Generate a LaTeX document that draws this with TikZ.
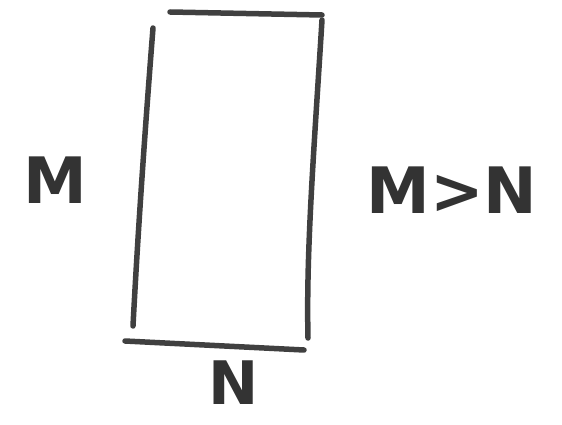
\documentclass[tikz,border=0pt]{standalone}
\usepackage{fontspec}
\setmainfont{DejaVu Sans}
\begin{document}
\begin{tikzpicture}[x=1pt,y=-1pt,
  stroke/.style={line width=5.5pt,draw=black!75,line cap=round},
  lbl/.style={font=\fontsize{64}{64}\selectfont\bfseries,text=black!80,inner sep=0pt}]
\useasboundingbox (0,0) rectangle (562,425);
\coordinate (t1) at (170,12);
\coordinate (t2) at (322,15);
\coordinate (r1) at (322,20);
\coordinate (r2) at (308,338);
\coordinate (b1) at (125,341);
\coordinate (b2) at (304,350);
\coordinate (l1) at (153,28);
\coordinate (l2) at (133,326);
\draw[stroke] (t1) -- (t2);
\draw[stroke] (r1) .. controls (314,150) and (306,250) .. (r2);
\draw[stroke] (b1) -- (b2);
\draw[stroke] (l1) .. controls (145,130) and (138,230) .. (l2);
\node[lbl] (m) at (55,180) {M};
\node[lbl,font=\fontsize{60}{60}\selectfont\bfseries] (n) at (234,383) {N};
\node[lbl] (mn) at (452,190) {M>N};
\end{tikzpicture}
\end{document}
